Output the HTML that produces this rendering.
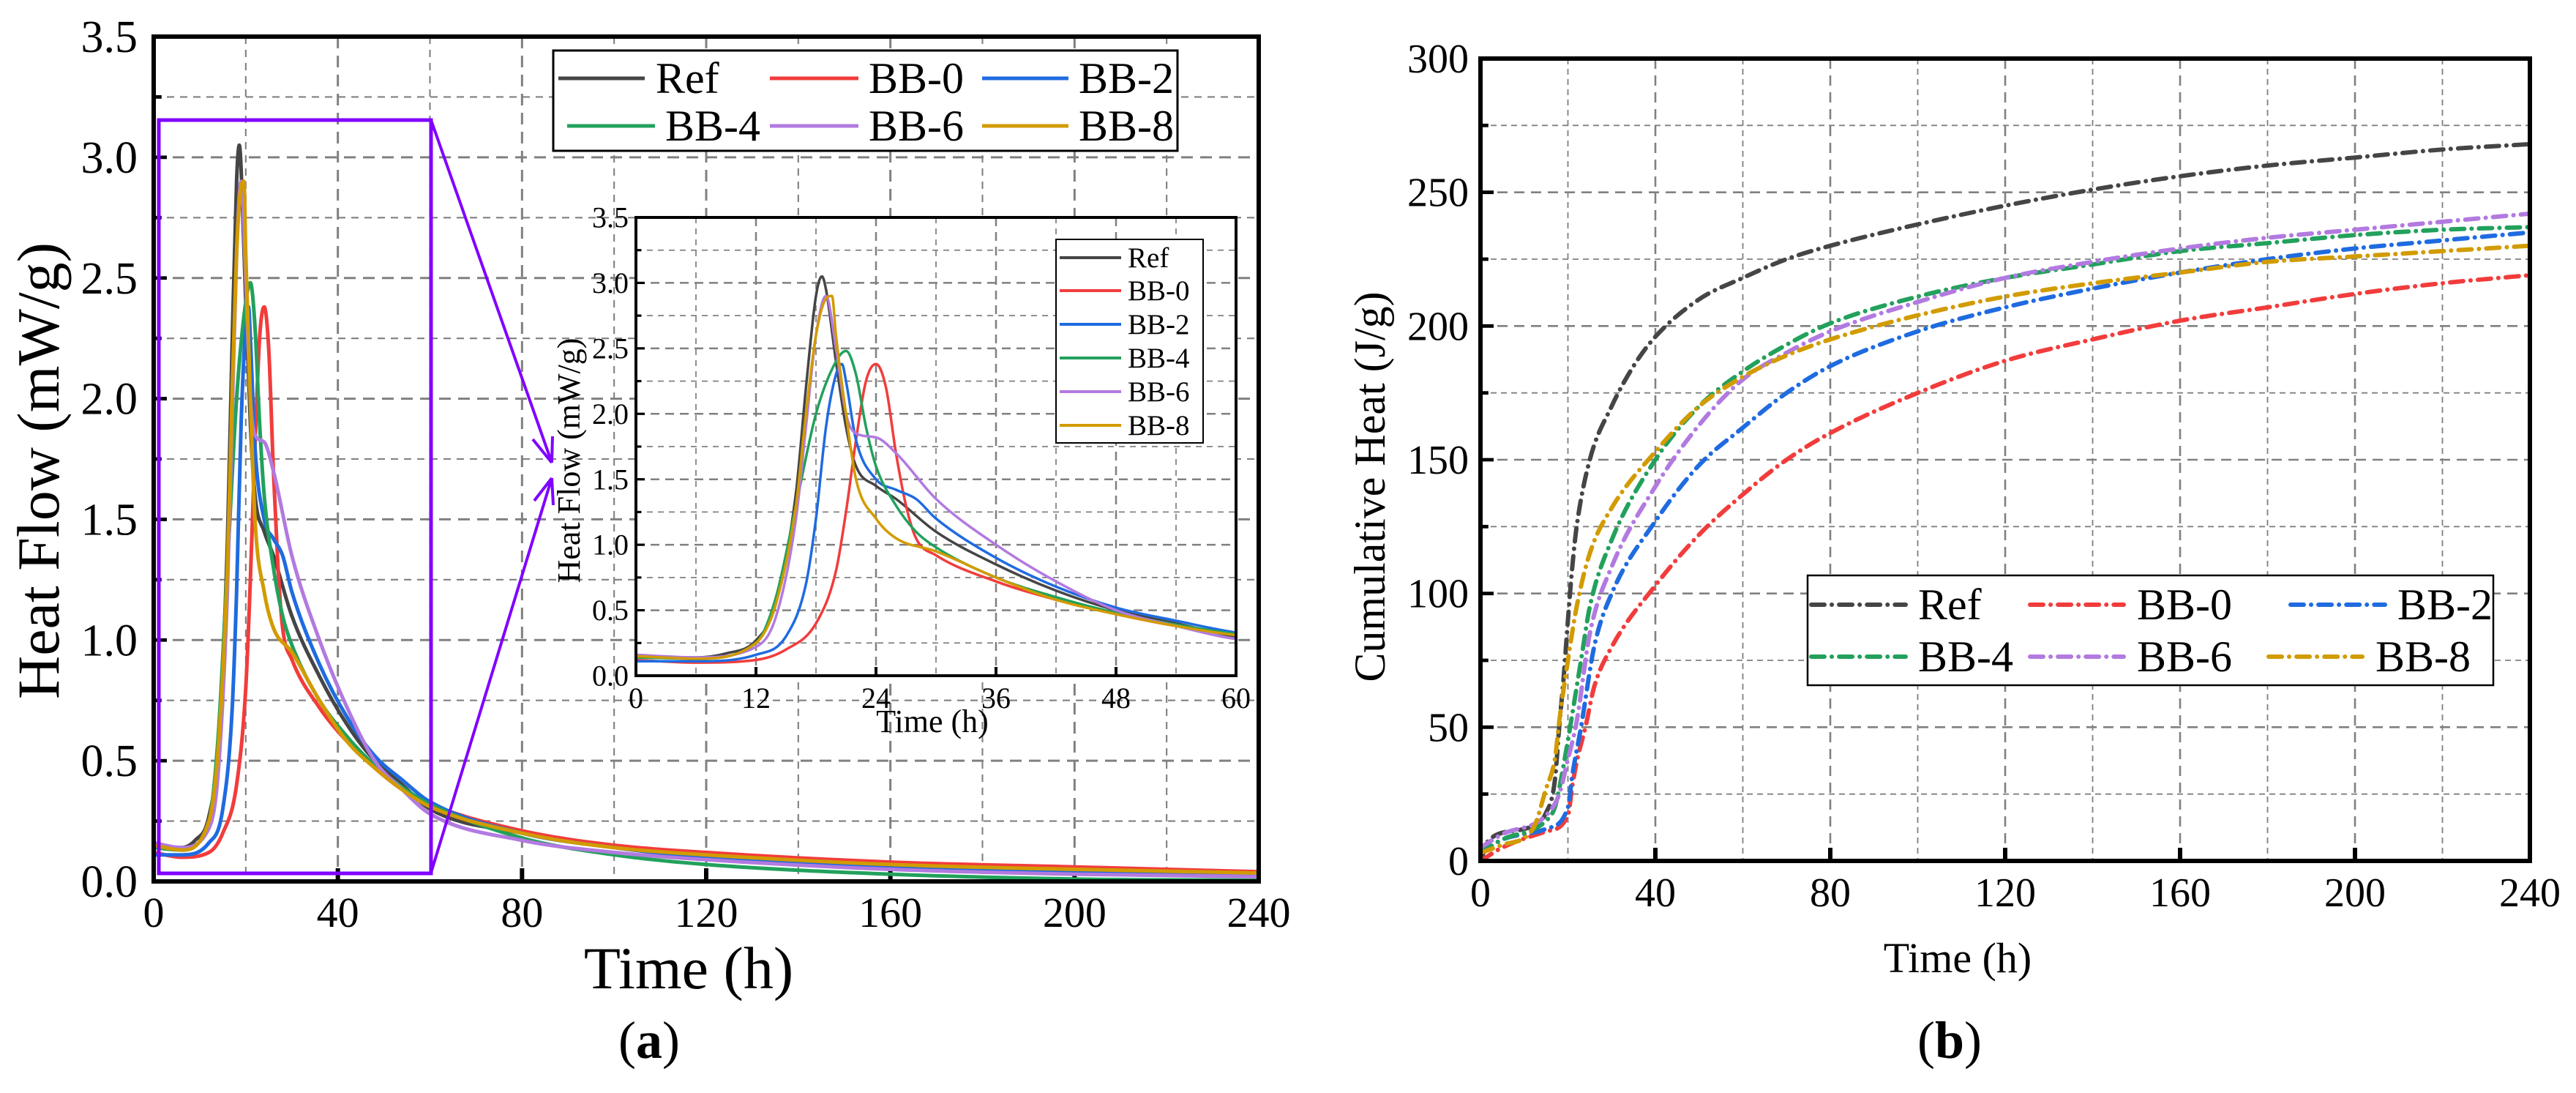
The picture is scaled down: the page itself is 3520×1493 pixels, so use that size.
<!DOCTYPE html>
<html><head><meta charset="utf-8"><style>
html,body{margin:0;padding:0;background:#fff}
svg text{font-family:"Liberation Serif",serif;fill:#000}
</style></head><body>
<svg id="fig" xmlns="http://www.w3.org/2000/svg" width="3520" height="1488" viewBox="0 0 3520 1488">
<rect width="3520" height="1488" fill="#fff"/>
</svg>
<script>
// ---------- data ----------
const seriesNames = ["Ref","BB-0","BB-2","BB-4","BB-6","BB-8"];
const seriesColors = ["#454545","#f23c3c","#1f6be0","#22a15c","#b27ae0","#d29b00"];
// Heat flow (mW/g) — time (h)
const hfRefT = [0,3,6,9,12,14,16,17,18,18.6,19,20,21,22,24,26,30,36,42,48,54,60,80,100,120,160,200,240];
const hfRefV = [0.15,0.14,0.14,0.17,0.27,0.55,1.4,2.2,2.9,3.05,2.95,2.4,1.9,1.6,1.45,1.35,1.1,0.85,0.65,0.5,0.4,0.3,0.2,0.14,0.1,0.06,0.04,0.03];
const hfB0T = [0,6,12,15,18,20,21,22,23,24,25,26,27,28,30,36,42,48,54,60,80,100,120,160,200,240];
const hfB0V = [0.12,0.1,0.12,0.2,0.4,0.8,1.25,1.8,2.25,2.38,2.2,1.7,1.3,1.05,0.92,0.72,0.58,0.47,0.38,0.32,0.21,0.15,0.12,0.08,0.06,0.04];
const hfB2T = [0,6,12,15,17,18,19,20,20.6,21,22,24,26,28,30,36,42,48,54,60,80,100,120,160,200,240];
const hfB2V = [0.11,0.11,0.16,0.3,0.7,1.2,1.9,2.3,2.38,2.25,1.8,1.5,1.42,1.35,1.2,0.9,0.68,0.52,0.42,0.33,0.2,0.14,0.1,0.06,0.04,0.03];
const hfB4T = [0,6,12,14,16,18,20,21,22,23,24,26,28,30,36,42,48,54,60,80,100,120,160,200,240];
const hfB4V = [0.14,0.13,0.25,0.6,1.3,2.0,2.4,2.48,2.3,1.9,1.6,1.3,1.1,0.98,0.75,0.6,0.48,0.39,0.32,0.18,0.11,0.07,0.03,0.01,0.005];
const hfB6T = [0,6,12,14,16,17,18,19,20,21,22,24,26,30,36,42,48,54,60,80,100,120,160,200,240];
const hfB6V = [0.16,0.14,0.22,0.45,1.2,1.9,2.6,2.9,2.5,2.0,1.85,1.82,1.7,1.35,1.0,0.72,0.5,0.38,0.28,0.17,0.12,0.09,0.05,0.03,0.02];
const hfB8T = [0,6,12,14,16,17,18,19,19.6,20,21,22,24,26,30,36,42,48,54,60,80,100,120,160,200,240];
const hfB8V = [0.15,0.13,0.25,0.55,1.3,2.0,2.6,2.88,2.9,2.6,2.0,1.5,1.2,1.05,0.95,0.75,0.58,0.47,0.38,0.31,0.2,0.14,0.11,0.07,0.05,0.035];
// Cumulative heat (J/g)
const chRefT = [0,2,10,15,17,18,19,20,21,22,25,30,35,40,50,60,70,80,100,120,140,160,180,200,220,240];
const chRefV = [0,8,12,18,30,50,68,90,110,125,150,170,185,196,210,218,225,230,238,245,251,256,260,263,266,268];
const chB0T = [0,5,15,20,21,22,24,26,30,40,50,60,70,80,100,120,140,160,180,200,220,240];
const chB0V = [0,5,11,17,28,37,50,65,80,103,122,137,150,160,175,187,195,202,207,212,216,219];
const chB2T = [0,5,15,20,21,23,26,30,40,50,60,70,80,100,120,140,160,180,200,220,240];
const chB2V = [3,8,12,20,32,50,80,100,127,148,162,175,185,198,207,214,220,225,229,232,235];
const chB4T = [0,5,15,17,18,20,21,23,25,30,40,50,60,70,80,100,120,140,160,180,200,220,240];
const chB4V = [3,8,15,20,27,45,55,75,95,120,150,170,183,193,201,211,218,223,228,231,234,236,237];
const chB6T = [0,5,15,18,20,22,25,30,40,50,60,70,80,100,120,140,160,180,200,220,240];
const chB6V = [5,10,17,25,38,52,85,110,140,163,180,190,198,209,218,224,229,233,236,239,242];
const chB8T = [0,5,12,15,17,18,20,22,25,30,40,50,60,70,80,100,120,140,160,180,200,220,240];
const chB8V = [3,6,12,27,38,52,75,95,115,132,153,170,181,189,195,204,211,216,220,224,226,228,230];
const hfT = [hfRefT,hfB0T,hfB2T,hfB4T,hfB6T,hfB8T];
const hfV = [hfRefV,hfB0V,hfB2V,hfB4V,hfB6V,hfB8V];
const chT = [chRefT,chB0T,chB2T,chB4T,chB6T,chB8T];
const chV = [chRefV,chB0V,chB2V,chB4V,chB6V,chB8V];
const xTicksMain = [0,40,80,120,160,200,240];
const yTicksA = [0,0.5,1.0,1.5,2.0,2.5,3.0,3.5];
const yTicksB = [0,50,100,150,200,250,300];
const xTicksInset = [0,12,24,36,48,60];

// ---------- helpers ----------
const NS="http://www.w3.org/2000/svg";
const svg=document.getElementById('fig');
function el(tag,attrs,parent,text){const e=document.createElementNS(NS,tag);for(const k in attrs)e.setAttribute(k,attrs[k]);if(text!==undefined)e.textContent=text;(parent||svg).appendChild(e);return e;}
function scale(d0,d1,r0,r1){return v=>r0+(v-d0)/(d1-d0)*(r1-r0);}

function drawAxes(g,p){
  const X=scale(p.x0,p.x1,p.L,p.R),Y=scale(p.y0,p.y1,p.B,p.T);
  for(let v=p.x0+p.xg;v<p.x1-1e-9;v+=p.xg){
    const major=Math.abs((v/p.xmaj)-Math.round(v/p.xmaj))<1e-6;
    const l=el('line',{x1:X(v),x2:X(v),y1:p.T,y2:p.B,stroke:'#808080','stroke-width':major?p.gw:p.gw*0.7,'stroke-dasharray':major?p.dash:p.dash2},g);
    
    
  }
  for(let v=p.y0+p.yg;v<p.y1-1e-9;v+=p.yg){
    const major=Math.abs((v/p.ymaj)-Math.round(v/p.ymaj))<1e-6;
    const l=el('line',{x1:p.L,x2:p.R,y1:Y(v),y2:Y(v),stroke:'#808080','stroke-width':major?p.gw:p.gw*0.7,'stroke-dasharray':major?p.dash:p.dash2},g);
    
    
  }
  p.xt.forEach(v=>{
    el('line',{x1:X(v),x2:X(v),y1:p.B,y2:p.B-p.tl,stroke:'#000','stroke-width':p.aw},g);
    const t=el('text',{x:X(v),y:p.B+p.xlo,'font-size':p.xfs,'text-anchor':'middle'},g,p.xfmt(v));
    
    
  });
  for(let v=p.y0;v<=p.y1+1e-9;v+=p.yg){
    el('line',{x1:p.L,x2:p.L+p.tl*(Math.abs(v/p.ymaj-Math.round(v/p.ymaj))<1e-6?1:0.6),y1:Y(v),y2:Y(v),stroke:'#000','stroke-width':p.aw*0.8},g);
  }
  p.yt.forEach(v=>{
    const t=el('text',{x:p.L-p.ylo,y:Y(v)+p.yfs*0.34,'font-size':p.yfs,'text-anchor':'end'},g,p.yfmt(v));
    
    
  });
  return {X,Y};
}
function frame(g,p){
  const r=el('rect',{x:p.L,y:p.T,width:p.R-p.L,height:p.B-p.T,fill:'none',stroke:'#000','stroke-width':p.aw},g);
  
  
}
// monotone cubic path (Fritsch–Carlson)
function smoothPath(xs,ys){
  const n=xs.length;if(n<3){return xs.map((x,k)=>(k?'L':'M')+x+','+ys[k]).join('');}
  const d=[],m=new Array(n);
  for(let k=0;k<n-1;k++)d.push((ys[k+1]-ys[k])/(xs[k+1]-xs[k]));
  m[0]=d[0];m[n-1]=d[n-2];
  for(let k=1;k<n-1;k++){m[k]=(d[k-1]*d[k]<=0)?0:(d[k-1]+d[k])/2;}
  for(let k=0;k<n-1;k++){
    if(d[k]===0){m[k]=0;m[k+1]=0;continue;}
    const a=m[k]/d[k],b=m[k+1]/d[k],s=a*a+b*b;
    if(s>9){const t=3/Math.sqrt(s);m[k]=t*a*d[k];m[k+1]=t*b*d[k];}
  }
  let p='M'+xs[0].toFixed(1)+','+ys[0].toFixed(1);
  for(let k=0;k<n-1;k++){
    const h=(xs[k+1]-xs[k])/3;
    p+='C'+(xs[k]+h).toFixed(1)+','+(ys[k]+m[k]*h).toFixed(1)+' '+(xs[k+1]-h).toFixed(1)+','+(ys[k+1]-m[k+1]*h).toFixed(1)+' '+xs[k+1].toFixed(1)+','+ys[k+1].toFixed(1);
  }
  return p;
}
function drawSeries(g,X,Y,T,V,i,w,dash,clipId){
  const d=smoothPath(T.map(X),V.map(Y));
  const a={d,fill:'none',stroke:seriesColors[i],'stroke-width':w,'stroke-linejoin':'round','stroke-linecap':'round'};
  if(dash)a['stroke-dasharray']=dash;
  if(clipId)a['clip-path']='url(#'+clipId+')';
  const path=el('path',a,g);
  
  
}
const defs=el('defs',{});

// ---------- panel a main ----------
const gA=el('g',{});


const pA={L:210,R:1720,T:50,B:1204,x0:0,x1:240,y0:0,y1:3.5,xg:20,xmaj:40,yg:0.25,ymaj:0.5,gw:3,dash:'16 10',dash2:'10 8',aw:6,tl:18,
  xt:xTicksMain,yt:yTicksA,xfs:58,xlo:62,yfs:62,ylo:22,xfmt:v=>String(v),yfmt:v=>v.toFixed(1)};
const axA=drawAxes(gA,pA);
const cpA=el('clipPath',{id:'clipA'},defs);el('rect',{x:pA.L,y:pA.T,width:pA.R-pA.L,height:pA.B-pA.T},cpA);
[0,1,2,3,4,5].forEach(i=>drawSeries(gA,axA.X,axA.Y,hfT[i],hfV[i],i,5,null,'clipA'));
frame(gA,pA);
const zb=el('rect',{x:217,y:164,width:372,height:1029,fill:'none',stroke:'#8000ff','stroke-width':5},gA);


const ar1=el('path',{d:'M589,164 L754,632 M754,632 L728,600 M754,632 L755,596',fill:'none',stroke:'#8000ff','stroke-width':4},gA);


const ar2=el('path',{d:'M589,1192 L754,653 M754,653 L730,684 M754,653 L756,690',fill:'none',stroke:'#8000ff','stroke-width':4},gA);


const lgA=el('g',{});


el('rect',{x:756,y:69,width:853,height:137,fill:'#fff',stroke:'#000','stroke-width':3},lgA);
const legAPos=[[763,881,896,107],[1052,1173,1187,107],[1342,1460,1474,107],[775,895,909,172],[1052,1173,1187,172],[1342,1460,1474,172]];
seriesNames.forEach((n,i)=>{
  const p=legAPos[i];
  el('line',{x1:p[0],x2:p[1],y1:p[3],y2:p[3],stroke:seriesColors[i],'stroke-width':5},lgA);
  const t=el('text',{x:p[2],y:p[3]+20,'font-size':60},lgA,n);
  
  
});
let t;
t=el('text',{x:941,y:1350,'font-size':82,'text-anchor':'middle'},gA,'Time (h)');


t=el('text',{x:0,y:0,'font-size':82,'text-anchor':'middle',transform:'translate(80,643) rotate(-90)'},gA,'Heat Flow (mW/g)');


t=el('text',{x:887,y:1445,'font-size':72,'text-anchor':'middle'},gA);
t.innerHTML='(<tspan font-weight="bold">a</tspan>)';



// ---------- inset ----------
const gI=el('g',{});


el('rect',{x:869,y:297,width:820,height:626,fill:'#fff'},gI);
const pI={L:869,R:1689,T:297,B:923,x0:0,x1:60,y0:0,y1:3.5,xg:6,xmaj:12,yg:0.25,ymaj:0.5,gw:2.5,dash:'12 8',dash2:'8 7',aw:4,tl:12,
  xt:xTicksInset,yt:yTicksA,xfs:40,xlo:44,yfs:40,ylo:10,xfmt:v=>String(v),yfmt:v=>v.toFixed(1)};
const axI=drawAxes(gI,pI);
const cpI=el('clipPath',{id:'clipI'},defs);el('rect',{x:pI.L,y:pI.T,width:pI.R-pI.L,height:pI.B-pI.T},cpI);
[0,1,2,3,4,5].forEach(i=>drawSeries(gI,axI.X,axI.Y,hfT[i],hfV[i],i,3.5,null,'clipI'));
frame(gI,pI);
const lgI=el('g',{});


el('rect',{x:1443,y:327,width:201,height:278,fill:'#fff',stroke:'#000','stroke-width':2},lgI);
const legIY=[352,397,443,489,535,581];
seriesNames.forEach((n,i)=>{
  el('line',{x1:1448,x2:1532,y1:legIY[i],y2:legIY[i],stroke:seriesColors[i],'stroke-width':4},lgI);
  const t2=el('text',{x:1541,y:legIY[i]+13,'font-size':39},lgI,n);
  
  
});
t=el('text',{x:1274,y:1000,'font-size':44,'text-anchor':'middle'},gI,'Time (h)');


t=el('text',{x:0,y:0,'font-size':44,'text-anchor':'middle',transform:'translate(792,629) rotate(-90)'},gI,'Heat Flow (mW/g)');



// ---------- panel b ----------
const gB=el('g',{});


const pB={L:2023,R:3457,T:80,B:1176,x0:0,x1:240,y0:0,y1:300,xg:20,xmaj:40,yg:25,ymaj:50,gw:2.6,dash:'14 9',dash2:'8 6',aw:6,tl:18,
  xt:xTicksMain,yt:yTicksB,xfs:56,xlo:62,yfs:56,ylo:16,xfmt:v=>String(v),yfmt:v=>String(v)};
const axB=drawAxes(gB,pB);
const cpB=el('clipPath',{id:'clipB'},defs);el('rect',{x:pB.L,y:pB.T,width:pB.R-pB.L,height:pB.B-pB.T},cpB);
[0,1,2,3,4,5].forEach(i=>drawSeries(gB,axB.X,axB.Y,chT[i],chV[i],i,6,'18 10 0.1 10','clipB'));
frame(gB,pB);
const lgB=el('g',{});


el('rect',{x:2470,y:786,width:937,height:150,fill:'#fff',stroke:'#000','stroke-width':2.5},lgB);
const legBPos=[[2475,2604,2621,826],[2774,2902,2920,826],[3130,3259,3276,826],[2475,2604,2621,897],[2774,2902,2920,897],[3100,3228,3246,897]];
seriesNames.forEach((n,i)=>{
  const p=legBPos[i];
  el('line',{x1:p[0],x2:p[1],y1:p[3],y2:p[3],stroke:seriesColors[i],'stroke-width':6,'stroke-dasharray':'18 10 0.1 10','stroke-linecap':'round'},lgB);
  const t3=el('text',{x:p[2],y:p[3]+20,'font-size':60},lgB,n);
  
  
});
t=el('text',{x:2675,y:1328,'font-size':58,'text-anchor':'middle'},gB,'Time (h)');


t=el('text',{x:0,y:0,'font-size':60,'text-anchor':'middle',transform:'translate(1892,665) rotate(-90)'},gB,'Cumulative Heat (J/g)');


t=el('text',{x:2664,y:1445,'font-size':72,'text-anchor':'middle'},gB);
t.innerHTML='(<tspan font-weight="bold">b</tspan>)';


</script>
</body></html>
